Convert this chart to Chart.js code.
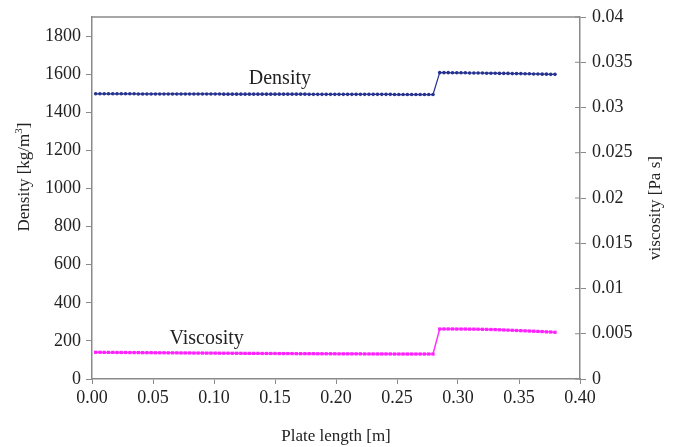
<!DOCTYPE html>
<html>
<head>
<meta charset="utf-8">
<script src="https://cdn.jsdelivr.net/npm/chart.js@4.4.1/dist/chart.umd.min.js"></script>
<style>
  body { margin: 0; background: #fff; }
  #wrap { width: 673px; height: 447px; }
</style>
</head>
<body>
<div id="wrap"><canvas id="plateChart" width="673" height="447"></canvas></div>
<script>
// plate length positions [m] - before and after the step
const lengthLow = [
    0.0030, 0.0065, 0.0100, 0.0135, 0.0170, 0.0205, 0.0240, 0.0275, 0.0310, 0.0345,
    0.0380, 0.0415, 0.0450, 0.0485, 0.0520, 0.0555, 0.0590, 0.0625, 0.0660, 0.0695,
    0.0730, 0.0765, 0.0800, 0.0835, 0.0870, 0.0905, 0.0940, 0.0975, 0.1010, 0.1045,
    0.1080, 0.1115, 0.1150, 0.1185, 0.1220, 0.1255, 0.1290, 0.1325, 0.1360, 0.1395,
    0.1430, 0.1465, 0.1500, 0.1535, 0.1570, 0.1605, 0.1640, 0.1675, 0.1710, 0.1745,
    0.1780, 0.1815, 0.1850, 0.1885, 0.1920, 0.1955, 0.1990, 0.2025, 0.2060, 0.2095,
    0.2130, 0.2165, 0.2200, 0.2235, 0.2270, 0.2305, 0.2340, 0.2375, 0.2410, 0.2445,
    0.2480, 0.2515, 0.2550, 0.2585, 0.2620, 0.2655, 0.2690, 0.2725, 0.2760, 0.2795
];
const lengthHigh = [
    0.2850, 0.2885, 0.2920, 0.2955, 0.2990, 0.3025, 0.3060, 0.3095, 0.3130, 0.3165,
    0.3200, 0.3235, 0.3270, 0.3305, 0.3340, 0.3375, 0.3410, 0.3445, 0.3480, 0.3515,
    0.3550, 0.3585, 0.3620, 0.3655, 0.3690, 0.3725, 0.3760, 0.3795
];

// density [kg/m3]
const densityLow = [
    1497, 1497, 1497, 1497, 1497, 1497, 1497, 1497, 1497, 1497,
    1496, 1496, 1496, 1496, 1496, 1496, 1496, 1496, 1496, 1496,
    1496, 1496, 1496, 1496, 1496, 1496, 1496, 1496, 1496, 1496,
    1495, 1495, 1495, 1495, 1495, 1495, 1495, 1495, 1495, 1495,
    1495, 1495, 1495, 1495, 1495, 1495, 1495, 1495, 1495, 1495,
    1494, 1494, 1494, 1494, 1494, 1494, 1494, 1494, 1494, 1494,
    1494, 1494, 1494, 1494, 1494, 1494, 1494, 1494, 1494, 1494,
    1493, 1493, 1493, 1493, 1493, 1493, 1493, 1493, 1493, 1493
];
const densityHigh = [
    1608, 1608, 1608, 1607, 1607, 1607, 1607, 1606, 1606, 1606,
    1606, 1605, 1605, 1605, 1604, 1604, 1604, 1603, 1603, 1603,
    1602, 1602, 1601, 1601, 1600, 1600, 1599, 1599
];

// viscosity [Pa s]
const viscosityLow = [
    0.00295, 0.00295, 0.00294, 0.00294, 0.00294, 0.00293, 0.00293, 0.00293, 0.00292, 0.00292,
    0.00292, 0.00291, 0.00291, 0.00291, 0.00290, 0.00290, 0.00290, 0.00289, 0.00289, 0.00289,
    0.00288, 0.00288, 0.00288, 0.00287, 0.00287, 0.00287, 0.00286, 0.00286, 0.00286, 0.00285,
    0.00285, 0.00285, 0.00284, 0.00284, 0.00284, 0.00283, 0.00283, 0.00283, 0.00283, 0.00282,
    0.00282, 0.00282, 0.00282, 0.00281, 0.00281, 0.00281, 0.00281, 0.00280, 0.00280, 0.00280,
    0.00280, 0.00280, 0.00279, 0.00279, 0.00279, 0.00279, 0.00279, 0.00278, 0.00278, 0.00278,
    0.00278, 0.00278, 0.00278, 0.00277, 0.00277, 0.00277, 0.00277, 0.00277, 0.00277, 0.00277,
    0.00276, 0.00276, 0.00276, 0.00276, 0.00276, 0.00276, 0.00276, 0.00276, 0.00276, 0.00276
];
const viscosityHigh = [
    0.00552, 0.00553, 0.00553, 0.00553, 0.00552, 0.00552, 0.00552, 0.00551, 0.00551, 0.00550,
    0.00549, 0.00548, 0.00547, 0.00546, 0.00544, 0.00542, 0.00540, 0.00538, 0.00536, 0.00534,
    0.00532, 0.00530, 0.00528, 0.00526, 0.00524, 0.00521, 0.00519, 0.00516
];

const serif = "'Liberation Serif', 'Times New Roman', serif";
const axisGray = '#8a8a8a';
const textColor = '#222';

function toPoints(xs, ys) {
    return xs.map((x, i) => ({ x: x, y: ys[i] }));
}

const densityPoints = toPoints(lengthLow, densityLow).concat(toPoints(lengthHigh, densityHigh));
const viscosityPoints = toPoints(lengthLow, viscosityLow).concat(toPoints(lengthHigh, viscosityHigh));

// texts drawn on top: in-plot labels, axis titles, top frame line
const extrasPlugin = {
    id: 'extras',
    afterDraw(chart) {
        const ctx = chart.ctx;
        const area = chart.chartArea;
        const xs = chart.scales.x;
        const ys = chart.scales.y;
        const ys1 = chart.scales.y1;

        ctx.save();
        // top frame line
        ctx.strokeStyle = axisGray;
        ctx.lineWidth = 1.5;
        ctx.beginPath();
        ctx.moveTo(area.left, area.top);
        ctx.lineTo(area.right, area.top);
        ctx.stroke();

        // right axis ticks also reach into the plot
        ctx.lineWidth = 1;
        ys1.ticks.forEach(t => {
            const py = ys1.getPixelForValue(t.value);
            ctx.beginPath();
            ctx.moveTo(area.right - 5, py);
            ctx.lineTo(area.right, py);
            ctx.stroke();
        });

        ctx.fillStyle = textColor;
        ctx.textAlign = 'center';
        ctx.textBaseline = 'middle';

        // series labels inside the plot
        ctx.font = '20px ' + serif;
        ctx.fillText('Density', xs.getPixelForValue(0.154), ys.getPixelForValue(1574));
        ctx.fillText('Viscosity', xs.getPixelForValue(0.094), ys.getPixelForValue(210));

        // x title
        ctx.font = '17px ' + serif;
        ctx.fillText('Plate length [m]', (area.left + area.right) / 2, 437);

        // right title, reading upward
        ctx.save();
        ctx.translate(656, 208);
        ctx.rotate(-Math.PI / 2);
        ctx.fillText('viscosity [Pa s]', 0, 0);
        ctx.restore();

        // left title with superscript
        ctx.save();
        ctx.translate(25, 177);
        ctx.rotate(-Math.PI / 2);
        const partA = 'Density [kg/m';
        const partB = '3';
        const partC = ']';
        ctx.font = '17px ' + serif;
        const wA = ctx.measureText(partA).width;
        const wC = ctx.measureText(partC).width;
        ctx.font = '11px ' + serif;
        const wB = ctx.measureText(partB).width;
        let px = -(wA + wB + wC) / 2;
        ctx.textAlign = 'left';
        ctx.font = '17px ' + serif;
        ctx.fillText(partA, px, 0);
        px += wA;
        ctx.font = '11px ' + serif;
        ctx.fillText(partB, px, -6);
        px += wB;
        ctx.font = '17px ' + serif;
        ctx.fillText(partC, px, 0);
        ctx.restore();

        ctx.restore();
    }
};

const ctx = document.getElementById('plateChart').getContext('2d');
new Chart(ctx, {
    type: 'line',
    data: {
        datasets: [
            {
                label: 'Density',
                data: densityPoints,
                yAxisID: 'y',
                borderColor: '#26328f',
                backgroundColor: '#26328f',
                borderWidth: 1.2,
                pointStyle: 'circle',
                pointRadius: 1.8,
                pointBorderWidth: 0,
                tension: 0
            },
            {
                label: 'Viscosity',
                data: viscosityPoints,
                yAxisID: 'y1',
                borderColor: '#ff33ff',
                backgroundColor: '#ff22ff',
                borderWidth: 1.5,
                pointStyle: 'rect',
                pointRadius: 2.3,
                pointBorderWidth: 0,
                tension: 0
            }
        ]
    },
    options: {
        responsive: false,
        animation: false,
        layout: {
            padding: { top: 17, left: 0, right: 0, bottom: 0 }
        },
        plugins: {
            legend: { display: false },
            tooltip: { enabled: false }
        },
        scales: {
            x: {
                type: 'linear',
                min: 0,
                max: 0.4,
                afterFit: scale => { scale.height = 68; },
                grid: { drawOnChartArea: false, color: axisGray, tickLength: 5 },
                border: { color: axisGray, width: 1.5 },
                ticks: {
                    stepSize: 0.05,
                    color: textColor,
                    padding: 3,
                    maxRotation: 0,
                    font: { family: serif, size: 18 },
                    callback: v => v.toFixed(2)
                }
            },
            y: {
                position: 'left',
                min: 0,
                max: 1900,
                afterFit: scale => { scale.width = 92; },
                grid: { drawOnChartArea: false, color: axisGray, tickLength: 6 },
                border: { color: axisGray, width: 1.5 },
                ticks: {
                    stepSize: 200,
                    includeBounds: false,
                    color: textColor,
                    padding: 5,
                    font: { family: serif, size: 18 },
                    callback: v => String(Math.round(v))
                }
            },
            y1: {
                position: 'right',
                min: 0,
                max: 0.04,
                afterFit: scale => { scale.width = 93; },
                grid: { drawOnChartArea: false, color: axisGray, tickLength: 6 },
                border: { color: axisGray, width: 1.5 },
                ticks: {
                    stepSize: 0.005,
                    color: textColor,
                    padding: 6,
                    font: { family: serif, size: 18 },
                    callback: v => String(parseFloat(v.toFixed(3)))
                }
            }
        }
    },
    plugins: [extrasPlugin]
});
</script>
</body>
</html>
